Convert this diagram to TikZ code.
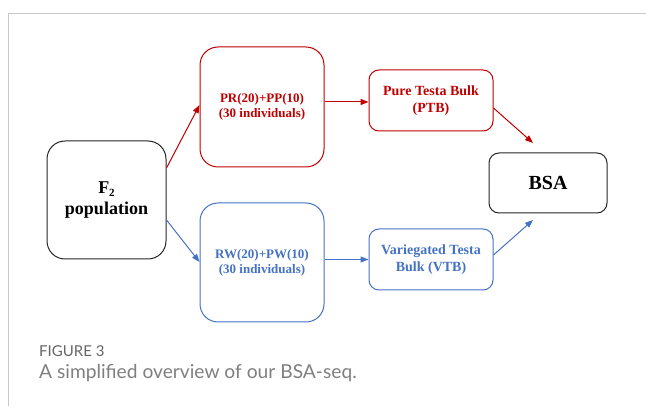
\documentclass[tikz,border=0pt]{standalone}
\usepackage{fontspec}
\setmainfont{Liberation Serif}
\newfontfamily\capfont{Lato}
\usetikzlibrary{arrows.meta}
\definecolor{myred}{HTML}{C00000}
\definecolor{myblue}{HTML}{4472C4}
\definecolor{frame}{HTML}{C8C8C8}
\definecolor{capgrey}{HTML}{7F7F7F}
\definecolor{boxblack}{HTML}{262626}
\tikzset{
  box/.style={draw, line width=1pt, fill=white, align=center, font=\bfseries, inner sep=0pt},
  bigbox/.style={box, rounded corners=18pt},
  smallbox/.style={box, rounded corners=10pt},
  redbox/.style={draw=myred, text=myred},
  bluebox/.style={draw=myblue, text=myblue},
  blackbox/.style={draw=boxblack, text=black},
  conn/.style={line width=1pt, -{Triangle[length=8pt,width=6pt]}},
}
\begin{document}
\begin{tikzpicture}[x=1pt,y=-1pt]
\useasboundingbox (0,0) rectangle (646,406);
\draw[frame, line width=1pt] (646,14) -- (8,14) -- (8,406);

\node[bigbox, blackbox, minimum width=119pt, minimum height=118pt,
      font=\bfseries\fontsize{18}{21}\selectfont] (f2) at (106.5,200)
      {F\raisebox{-0.35ex}{\fontsize{11}{11}\selectfont 2}\\population};
\node[bigbox, redbox, minimum width=124pt, minimum height=120pt,
      font=\bfseries\fontsize{13}{15}\selectfont] (pr) at (262,107)
      {PR(20)+PP(10)\\(30 individuals)};
\node[bigbox, bluebox, minimum width=124pt, minimum height=119pt,
      font=\bfseries\fontsize{13}{15}\selectfont] (rw) at (262,262.5)
      {RW(20)+PW(10)\\(30 individuals)};
\node[smallbox, redbox, minimum width=124pt, minimum height=61pt,
      font=\bfseries\fontsize{14}{17}\selectfont] (ptb) at (431,100.5)
      {Pure Testa Bulk\\(PTB)};
\node[smallbox, bluebox, minimum width=124pt, minimum height=61pt,
      font=\bfseries\fontsize{14}{17}\selectfont] (vtb) at (431,259.5)
      {Variegated Testa\\Bulk (VTB)};
\node[smallbox, blackbox, minimum width=118pt, minimum height=60pt,
      font=\bfseries\fontsize{20}{24}\selectfont] (bsa) at (548,183) {BSA};

\coordinate (bsatop) at (533,143);
\coordinate (bsabot) at (533,220);

\draw[conn, myred] ([yshift=32pt]f2.east) -- ([yshift=2pt]pr.west);
\draw[conn, myblue] ([yshift=-20pt]f2.east) -- ([yshift=0.5pt]rw.west);
\draw[conn, myred] ([yshift=5pt]pr.east) -- ([yshift=5pt]pr.east -| ptb.west);
\draw[conn, myblue] ([yshift=3pt]rw.east) -- ([yshift=3pt]rw.east -| vtb.west);
\draw[conn, myred] ([yshift=-7.5pt]ptb.east) -- (bsatop);
\draw[conn, myblue] ([yshift=4.5pt]vtb.east) -- (bsabot);

\node[anchor=base west, inner sep=0pt, text=capgrey!80!black,
      font=\capfont\fontsize{15}{17}\selectfont] (cap1) at (39,356) {FIGURE 3};
\node[anchor=base west, inner sep=0pt, text=capgrey,
      font=\capfont\fontsize{19.2}{22}\selectfont] (cap2) at (39,378) {A simplified overview of our BSA-seq.};
\end{tikzpicture}
\end{document}
